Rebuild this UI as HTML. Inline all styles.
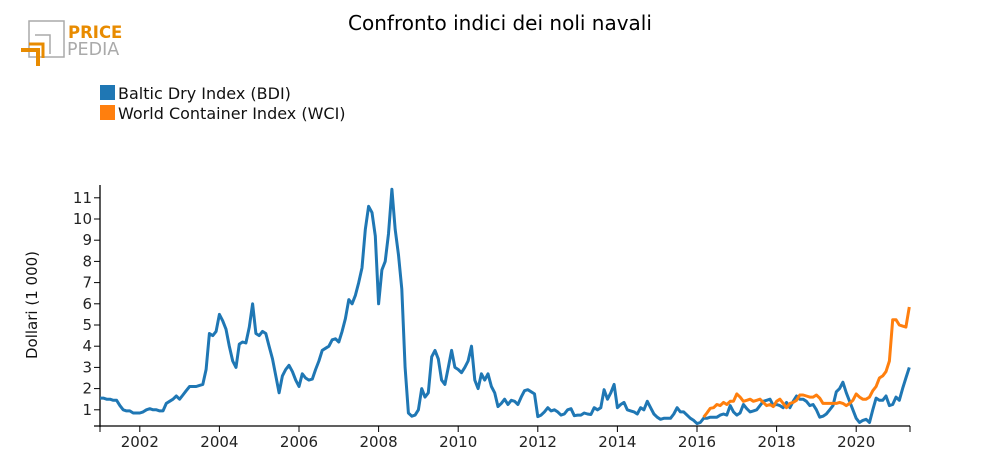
<!DOCTYPE html>
<html><head><meta charset="utf-8">
<style>
html,body{margin:0;padding:0;background:#fff;}
svg{display:block;font-family:"DejaVu Sans","Liberation Sans",sans-serif;}
</style></head>
<body>
<svg id="chart" width="1000" height="475" viewBox="0 0 1000 475">
  <g>
    <rect x="29" y="21" width="35" height="36" fill="none" stroke="#aaa" stroke-width="1.5"/>
    <path d="M35 35 H50 V54" fill="none" stroke="#aaa" stroke-width="1.5"/>
    <path d="M21 50 H38 V66" fill="none" stroke="#e88b00" stroke-width="4"/>
    <path d="M29 44 H43 V58" fill="none" stroke="#e88b00" stroke-width="3"/>
    <text x="68" y="38" font-size="16.5" font-weight="bold" fill="#e88b00">PRICE</text>
    <text x="67" y="55" font-size="17.5" fill="#aaa">PEDIA</text>
  </g>
  <text x="500" y="30" text-anchor="middle" font-size="20" fill="#000">Confronto indici dei noli navali</text>
  <g>
    <g>
      <rect x="100" y="85" width="15" height="15" fill="#1f77b4"/>
      <text x="118" y="99" font-size="16" fill="#111">Baltic Dry Index (BDI)</text>
    </g>
    <g>
      <rect x="100" y="105" width="15" height="15" fill="#ff7f0e"/>
      <text x="118" y="119" font-size="16" fill="#111">World Container Index (WCI)</text>
    </g>
  </g>
  <text transform="translate(37,305) rotate(-90)" text-anchor="middle" font-size="15" fill="#111">Dollari (1 000)</text>
  <g id="axes"></g>
  <g id="series"></g>
</svg>
<script>
const bdiValues = [
1.55,1.55,1.5,1.5,1.45,1.45,1.2,1.0,0.95,0.95,0.85,0.85,
0.85,0.9,1.0,1.05,1.0,1.0,0.95,0.95,1.3,1.4,1.5,1.65,
1.5,1.7,1.9,2.1,2.1,2.1,2.15,2.2,2.9,4.6,4.5,4.7,
5.5,5.2,4.8,4.0,3.3,3.0,4.1,4.2,4.15,4.9,6.0,4.6,
4.5,4.7,4.6,4.0,3.4,2.6,1.8,2.6,2.9,3.1,2.8,2.4,
2.1,2.7,2.5,2.4,2.45,2.9,3.3,3.8,3.9,4.0,4.3,4.35,
4.2,4.7,5.3,6.2,6.0,6.4,7.0,7.7,9.5,10.6,10.3,9.2,
6.0,7.6,8.0,9.3,11.4,9.5,8.3,6.7,3.0,0.85,0.7,0.75,
1.0,2.0,1.6,1.8,3.5,3.8,3.4,2.4,2.2,3.0,3.8,3.0,
2.9,2.75,3.0,3.3,4.0,2.4,2.0,2.7,2.4,2.7,2.1,1.8,
1.15,1.3,1.5,1.25,1.45,1.4,1.25,1.6,1.9,1.95,1.85,1.75,
0.68,0.75,0.9,1.1,0.95,1.0,0.9,0.75,0.8,1.0,1.05,0.72,
0.75,0.75,0.85,0.8,0.78,1.1,1.0,1.1,1.95,1.5,1.8,2.2,
1.1,1.25,1.35,1.0,0.95,0.9,0.8,1.1,1.0,1.4,1.1,0.8,
0.65,0.55,0.6,0.6,0.6,0.8,1.1,0.9,0.9,0.75,0.6,0.5,
0.35,0.4,0.6,0.6,0.65,0.65,0.65,0.75,0.8,0.75,1.2,0.9,
0.75,0.85,1.25,1.05,0.9,0.95,1.0,1.2,1.4,1.45,1.5,1.2,
1.25,1.2,1.1,1.35,1.1,1.4,1.65,1.5,1.5,1.4,1.2,1.25,
1.0,0.65,0.7,0.8,1.0,1.2,1.85,2.0,2.3,1.8,1.4,1.0,
0.6,0.4,0.5,0.55,0.4,1.0,1.55,1.45,1.45,1.65,1.2,1.25,
1.6,1.45,2.0,2.5,3.0];
const wciStart = 182; // month index (Mar 2016)
const wciValues = [
0.65,0.85,1.07,1.1,1.25,1.2,1.35,1.25,1.4,1.4,
1.75,1.6,1.4,1.45,1.5,1.4,1.45,1.5,1.35,1.2,1.25,1.15,
1.4,1.5,1.3,1.1,1.3,1.35,1.45,1.7,1.7,1.65,1.6,1.6,
1.7,1.55,1.3,1.3,1.3,1.3,1.3,1.35,1.3,1.2,1.3,1.45,
1.75,1.6,1.5,1.5,1.6,1.9,2.1,2.5,2.6,2.8,3.3,5.25,
5.25,5.0,4.95,4.9,5.85];
const yTicks = [1,2,3,4,5,6,7,8,9,10,11];
const xTickYears = [2002,2004,2006,2008,2010,2012,2014,2016,2018,2020];

const NS = "http://www.w3.org/2000/svg";
const X0 = 100, X1 = 910, YB = 426, YT = 185;
const startYear = 2001, pxPerYear = 39.8;
const xYear = y => X0 + (y - startYear) * pxPerYear;
const xMonth = i => xYear(startYear + i / 12);
const yVal = v => 431 - v * 21.2;
function mk(tag, attrs, parent){const e=document.createElementNS(NS,tag);for(const k in attrs)e.setAttribute(k,attrs[k]);parent.appendChild(e);return e;}
const axes = document.getElementById('axes');
const series = document.getElementById('series');

const yAxis = mk('line',{x1:X0,y1:YT,x2:X0,y2:YB+1,stroke:'#000','stroke-width':1.3},axes);


const xAxis = mk('line',{x1:X0-6,y1:YB,x2:X1,y2:YB,stroke:'#000','stroke-width':1.3},axes);



yTicks.forEach(v=>{
  const y=yVal(v);
  mk('line',{x1:X0-6,y1:y,x2:X0,y2:y,stroke:'#000','stroke-width':1},axes);
  const t=mk('text',{x:X0-8,y:y+5,'text-anchor':'end','font-size':15,fill:'#222'},axes);
  t.textContent=v;
  
  
});
mk('line',{x1:X0,y1:YB,x2:X0,y2:YB+6,stroke:'#000','stroke-width':1},axes);
mk('line',{x1:X1,y1:YB,x2:X1,y2:YB+6,stroke:'#000','stroke-width':1},axes);
xTickYears.forEach(yr=>{
  const x=xYear(yr);
  mk('line',{x1:x,y1:YB,x2:x,y2:YB+6,stroke:'#000','stroke-width':1},axes);
  const t=mk('text',{x:x,y:YB+21,'text-anchor':'middle','font-size':15,fill:'#222'},axes);
  t.textContent=yr;
  
  
});

function line(vals, start, color, name){
  const d = vals.map((v,k)=>(k?'L':'M')+xMonth(start+k).toFixed(1)+' '+yVal(v).toFixed(1)).join(' ');
  const p = mk('path',{d:d,fill:'none',stroke:color,'stroke-width':3,'stroke-linejoin':'round'},series);
  
  
}
line(bdiValues,0,'#1f77b4','bdi-line');
line(wciValues,wciStart,'#ff7f0e','wci-line');
</script>
</body></html>
